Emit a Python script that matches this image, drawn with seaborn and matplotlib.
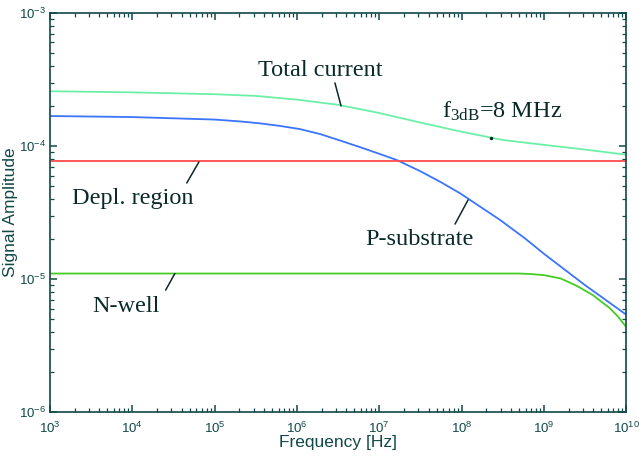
import numpy as np
import pandas as pd
import matplotlib
matplotlib.use("Agg")
import matplotlib.pyplot as plt
import matplotlib.ticker as mticker
import seaborn as sns

# values (log-log plot)
freq_total = [1e3, 1e4, 1e5, 3.16e5, 1e6, 3.16e6, 1e7, 3.16e7, 1e8, 3.16e8,
              1e9, 3.16e9, 1e10]
total_current = [2.58e-4, 2.53e-4, 2.45e-4, 2.38e-4, 2.23e-4, 2.04e-4, 1.77e-4,
                 1.50e-4, 1.28e-4, 1.11e-4, 1.02e-4, 9.4e-5, 8.6e-5]

freq_psub = [1e3, 1e4, 1e5, 2.04e5, 3.56e5, 6.24e5, 1.09e6, 1.91e6, 3.34e6,
             5.85e6, 1.02e7, 1.63e7, 3.13e7, 5.48e7, 9.6e7, 1.68e8, 2.94e8,
             5.9e8, 1e9, 3.16e9, 1e10]
p_substrate = [1.68e-4, 1.65e-4, 1.58e-4, 1.53e-4, 1.48e-4, 1.415e-4, 1.34e-4,
               1.23e-4, 1.10e-4, 9.8e-5, 8.7e-5, 7.85e-5, 6.48e-5, 5.39e-5,
               4.41e-5, 3.50e-5, 2.78e-5, 2.02e-5, 1.55e-5, 9.0e-6, 5.4e-6]

freq_depl = [1e3, 1e10]
depl_region = [7.75e-5, 7.75e-5]

freq_nwell = [1e3, 1e6, 5e8, 7e8, 1e9, 1.6e9, 2.5e9, 3.9e9, 6.3e9, 8e9, 1e10]
n_well = [1.1e-5, 1.1e-5, 1.1e-5, 1.09e-5, 1.07e-5, 1.01e-5, 8.9e-6, 7.6e-6,
          6.05e-6, 5.2e-6, 4.36e-6]

x_ticks = [1e3, 1e4, 1e5, 1e6, 1e7, 1e8, 1e9, 1e10]
y_ticks = [1e-6, 1e-5, 1e-4, 1e-3]

series_names = ["Total current", "P-substrate", "Depl. region", "N-well"]
series_colors = ["#6cf0a8", "#3a74ff", "#ff4a4a", "#44cc22"]

rows = []
for name, fs, vals in zip(series_names,
                          [freq_total, freq_psub, freq_depl, freq_nwell],
                          [total_current, p_substrate, depl_region, n_well]):
    for f, v in zip(fs, vals):
        rows.append({"freq": f, "amp": v, "series": name})
df = pd.DataFrame(rows)

sns.set_style("ticks")
plt.rcParams["font.family"] = ["Liberation Sans", "DejaVu Sans"]
plt.rcParams["mathtext.fontset"] = "custom"
plt.rcParams["mathtext.rm"] = "Liberation Sans"
plt.rcParams["mathtext.it"] = "Liberation Sans:italic"

ink = "#114848"
txt = "#0a2a2a"

fig = plt.figure(figsize=(6.39, 4.62), dpi=100)
ax = fig.add_axes([0.078, 0.108, 0.902, 0.864])

sns.lineplot(data=df, x="freq", y="amp", hue="series", hue_order=series_names,
             palette=series_colors, linewidth=1.3, legend=False, sort=True, ax=ax)

ax.set_xscale("log")
ax.set_yscale("log")
ax.set_xticks(x_ticks)
ax.set_yticks(y_ticks)
ax.xaxis.set_minor_formatter(mticker.NullFormatter())
ax.yaxis.set_minor_formatter(mticker.NullFormatter())
ax.set_xlim(1e3, 1e10)
ax.set_ylim(1e-6, 1e-3)

ax.set_xlabel("Frequency [Hz]", fontsize=12.5, color=ink)
ax.set_ylabel("Signal Amplitude", fontsize=12.5, color=ink)
ax.xaxis.set_label_coords(0.5, -0.058)
ax.yaxis.set_label_coords(-0.056, 0.5)

for s in ax.spines.values():
    s.set_color(ink)
    s.set_linewidth(1.2)
ax.tick_params(which="both", direction="in", top=True, right=True, colors=ink,
               labelsize=9.5, labelcolor=ink)
ax.tick_params(which="major", length=5, width=1.1)
ax.tick_params(which="minor", length=3, width=0.9)
ax.tick_params(axis="x", pad=6)
ax.tick_params(axis="y", pad=3)

# annotations
serif = ["Liberation Serif", "DejaVu Serif"]
tkw = dict(family=serif, fontsize=17.5, color=txt, va="baseline", ha="left")
lkw = dict(color=txt, lw=1.1)

ax.text(3.4e5, 3.36e-4, "Total current", **tkw)
ax.plot([2.9e6, 3.44e6], [2.98e-4, 2.0e-4], **lkw)

ax.text(5.8e7, 1.63e-4, r"$\mathregular{f_{3dB}}$=8 MHz", **tkw)
ax.plot([2.28e8], [1.15e-4], marker="o", ms=1.5, color=txt)

ax.text(1.85e3, 3.66e-5, "Depl. region", **tkw)
ax.plot([6.46e4, 4.6e4], [7.58e-5, 5.27e-5], **lkw)

ax.text(6.7e6, 1.8e-5, "P-substrate", **tkw)
ax.plot([1.2e8, 8.34e7], [3.93e-5, 2.59e-5], **lkw)

ax.text(3.24e3, 5.65e-6, "N-well", **tkw)
ax.plot([3.3e4, 2.55e4], [1.1e-5, 8.26e-6], **lkw)

fig.savefig("out.png", dpi=100)
